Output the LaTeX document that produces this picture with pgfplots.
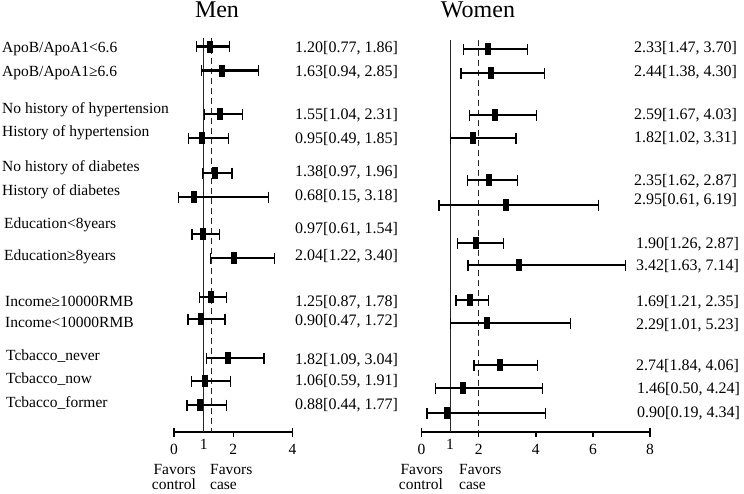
\documentclass[border=0pt]{standalone}
\usepackage{fontspec}
\setmainfont{Liberation Serif}
\usepackage{pgfplots}
\pgfplotsset{compat=1.18}
\usepackage{pgfplotstable}

% row = vertical position (pixels from the top, negative), or = odds ratio, lo/hi = 95% CI
\pgfplotstableread{
row or lo hi
-46.5 1.20 0.77 1.86
-70.5 1.63 0.94 2.85
-114 1.55 1.04 2.31
-138 0.95 0.49 1.85
-173 1.38 0.97 1.96
-197 0.68 0.15 3.18
-234 0.97 0.61 1.54
-258 2.04 1.22 3.40
-297 1.25 0.87 1.78
-319 0.90 0.47 1.72
-358 1.82 1.09 3.04
-381 1.06 0.59 1.91
-405 0.88 0.44 1.77
}\mendata

\pgfplotstableread{
row or lo hi
-49 2.33 1.47 3.70
-73 2.44 1.38 4.30
-115 2.59 1.67 4.03
-138 1.82 1.02 3.31
-180 2.35 1.62 3.37
-205 2.95 0.61 6.19
-243 1.90 1.26 2.87
-265 3.42 1.63 7.14
-300 1.69 1.21 2.35
-323 2.29 1.01 5.23
-365 2.74 1.84 4.06
-388 1.46 0.50 4.24
-413 0.90 0.19 4.34
}\womendata

\newcommand{\lab}{\fontsize{15.5}{18}\selectfont}
\newcommand{\val}{\fontsize{16}{18}\selectfont}

\pgfplotsset{
  forest/.style={
    scale only axis, height=432pt, ymin=-432, ymax=0,
    axis x line*=bottom, axis y line=none, hide y axis,
    anchor=south west, clip=false,
    x axis line style={line width=2.2pt},
    xtick style={line width=1.5pt, black},
    tick align=outside, major tick length=5pt,
    extra x ticks={1}, extra x tick style={major tick length=0pt, grid=none},
    /pgf/number format/assume math mode=true,
    ticklabel style={font=\lab},
    xticklabel style={yshift=-4pt},
  },
  ci/.style={
    black, only marks, mark=|,
    mark options={line width=6pt, mark size=6pt},
    error bars/.cd, x dir=both, x explicit,
    error bar style={line width=2.4pt},
    error mark=|,
    error mark options={line width=1.2pt, mark size=5.5pt},
  },
}

\begin{document}
\begin{tikzpicture}
\path[use as bounding box] (0,0) rectangle (744pt,-493pt);

% ---------- Men ----------
\begin{axis}[forest, at={(174pt,-432pt)}, width=118.5pt,
  xmin=0, xmax=4, xtick={0,2,4}]
  \addplot[line width=1pt, black!85] coordinates {(1,-38) (1,-432)};
  \addplot[line width=1pt, black!85, dash pattern=on 6pt off 4pt] coordinates {(1.27,-38) (1.27,-432)};
  \addplot[ci] table[x=or, y=row,
    x error minus expr=\thisrow{or}-\thisrow{lo},
    x error plus expr=\thisrow{hi}-\thisrow{or}] {\mendata};
  \draw[line width=1.5pt] (axis cs:0,-432) -- ++(0pt,4pt);
  \draw[line width=1.5pt] (axis cs:4,-432) -- ++(0pt,4pt);
\end{axis}

% ---------- Women ----------
\begin{axis}[forest, at={(421.5pt,-432pt)}, width=228.5pt,
  xmin=0, xmax=8, xtick={0,2,4,6,8}]
  \addplot[line width=1pt, black!85] coordinates {(1,-40) (1,-432)};
  \addplot[line width=1pt, black!85, dash pattern=on 6pt off 4pt] coordinates {(2,-40) (2,-432)};
  \addplot[ci] table[x=or, y=row,
    x error minus expr=\thisrow{or}-\thisrow{lo},
    x error plus expr=\thisrow{hi}-\thisrow{or}] {\womendata};
  \draw[line width=1.5pt] (axis cs:0,-432) -- ++(0pt,4pt);
  \draw[line width=1.5pt] (axis cs:8,-432) -- ++(0pt,4pt);
\end{axis}

% titles
\node[anchor=base, font=\fontsize{24}{28}\selectfont] at (217pt,-17.5pt) {Men};
\node[anchor=base, font=\fontsize{24}{28}\selectfont] at (478pt,-17.5pt) {Women};

% category labels
\begin{scope}[every node/.style={anchor=base west, inner sep=0pt, font=\lab}]
\node at (2pt,-52pt) {ApoB/ApoA1<6.6};
\node at (2pt,-76pt) {ApoB/ApoA1≥6.6};
\node at (2pt,-113pt) {No history of hypertension};
\node at (2pt,-136pt) {History of hypertension};
\node at (2pt,-171.5pt) {No history of diabetes};
\node at (2pt,-195pt) {History of diabetes};
\node at (4pt,-228pt) {Education<8years};
\node at (4pt,-260pt) {Education≥8years};
\node at (5pt,-306.5pt) {Income≥10000RMB};
\node at (5pt,-327pt) {Income<10000RMB};
\node at (6pt,-360.5pt) {Tcbacco\_never};
\node at (6pt,-383pt) {Tcbacco\_now};
\node at (6pt,-407pt) {Tcbacco\_former};
\end{scope}

% men estimates
\begin{scope}[every node/.style={anchor=base west, inner sep=0pt, font=\val}]
\node at (295pt,-52.5pt) {1.20[0.77, 1.86]};
\node at (295pt,-76.5pt) {1.63[0.94, 2.85]};
\node at (295pt,-119pt) {1.55[1.04, 2.31]};
\node at (295pt,-143pt) {0.95[0.49, 1.85]};
\node at (295pt,-176.5pt) {1.38[0.97, 1.96]};
\node at (295pt,-200.5pt) {0.68[0.15, 3.18]};
\node at (295pt,-233pt) {0.97[0.61, 1.54]};
\node at (295pt,-260.5pt) {2.04[1.22, 3.40]};
\node at (295pt,-306.5pt) {1.25[0.87, 1.78]};
\node at (295pt,-325.5pt) {0.90[0.47, 1.72]};
\node at (295pt,-364pt) {1.82[1.09, 3.04]};
\node at (295pt,-385.5pt) {1.06[0.59, 1.91]};
\node at (295pt,-409pt) {0.88[0.44, 1.77]};
% women estimates
\node at (634pt,-52.5pt) {2.33[1.47, 3.70]};
\node at (634pt,-76.5pt) {2.44[1.38, 4.30]};
\node at (634pt,-119pt) {2.59[1.67, 4.03]};
\node at (634pt,-142.5pt) {1.82[1.02, 3.31]};
\node at (634pt,-185pt) {2.35[1.62, 2.87]};
\node at (634pt,-204pt) {2.95[0.61, 6.19]};
\node at (636pt,-248pt) {1.90[1.26, 2.87]};
\node at (636pt,-270pt) {3.42[1.63, 7.14]};
\node at (636pt,-306pt) {1.69[1.21, 2.35]};
\node at (636pt,-329pt) {2.29[1.01, 5.23]};
\node at (636pt,-370pt) {2.74[1.84, 4.06]};
\node at (637pt,-393pt) {1.46[0.50, 4.24]};
\node at (637pt,-417pt) {0.90[0.19, 4.34]};
\end{scope}

% favors annotations
\begin{scope}[every node/.style={inner sep=0pt, font=\lab}]
\node[anchor=base east] at (196pt,-474pt) {Favors};
\node[anchor=base east] at (196pt,-489.5pt) {control};
\node[anchor=base west] at (210pt,-474pt) {Favors};
\node[anchor=base west] at (210pt,-489.5pt) {case};
\node[anchor=base east] at (443pt,-474pt) {Favors};
\node[anchor=base east] at (443pt,-489.5pt) {control};
\node[anchor=base west] at (459pt,-474pt) {Favors};
\node[anchor=base west] at (459pt,-489.5pt) {case};
\end{scope}
\end{tikzpicture}
\end{document}
